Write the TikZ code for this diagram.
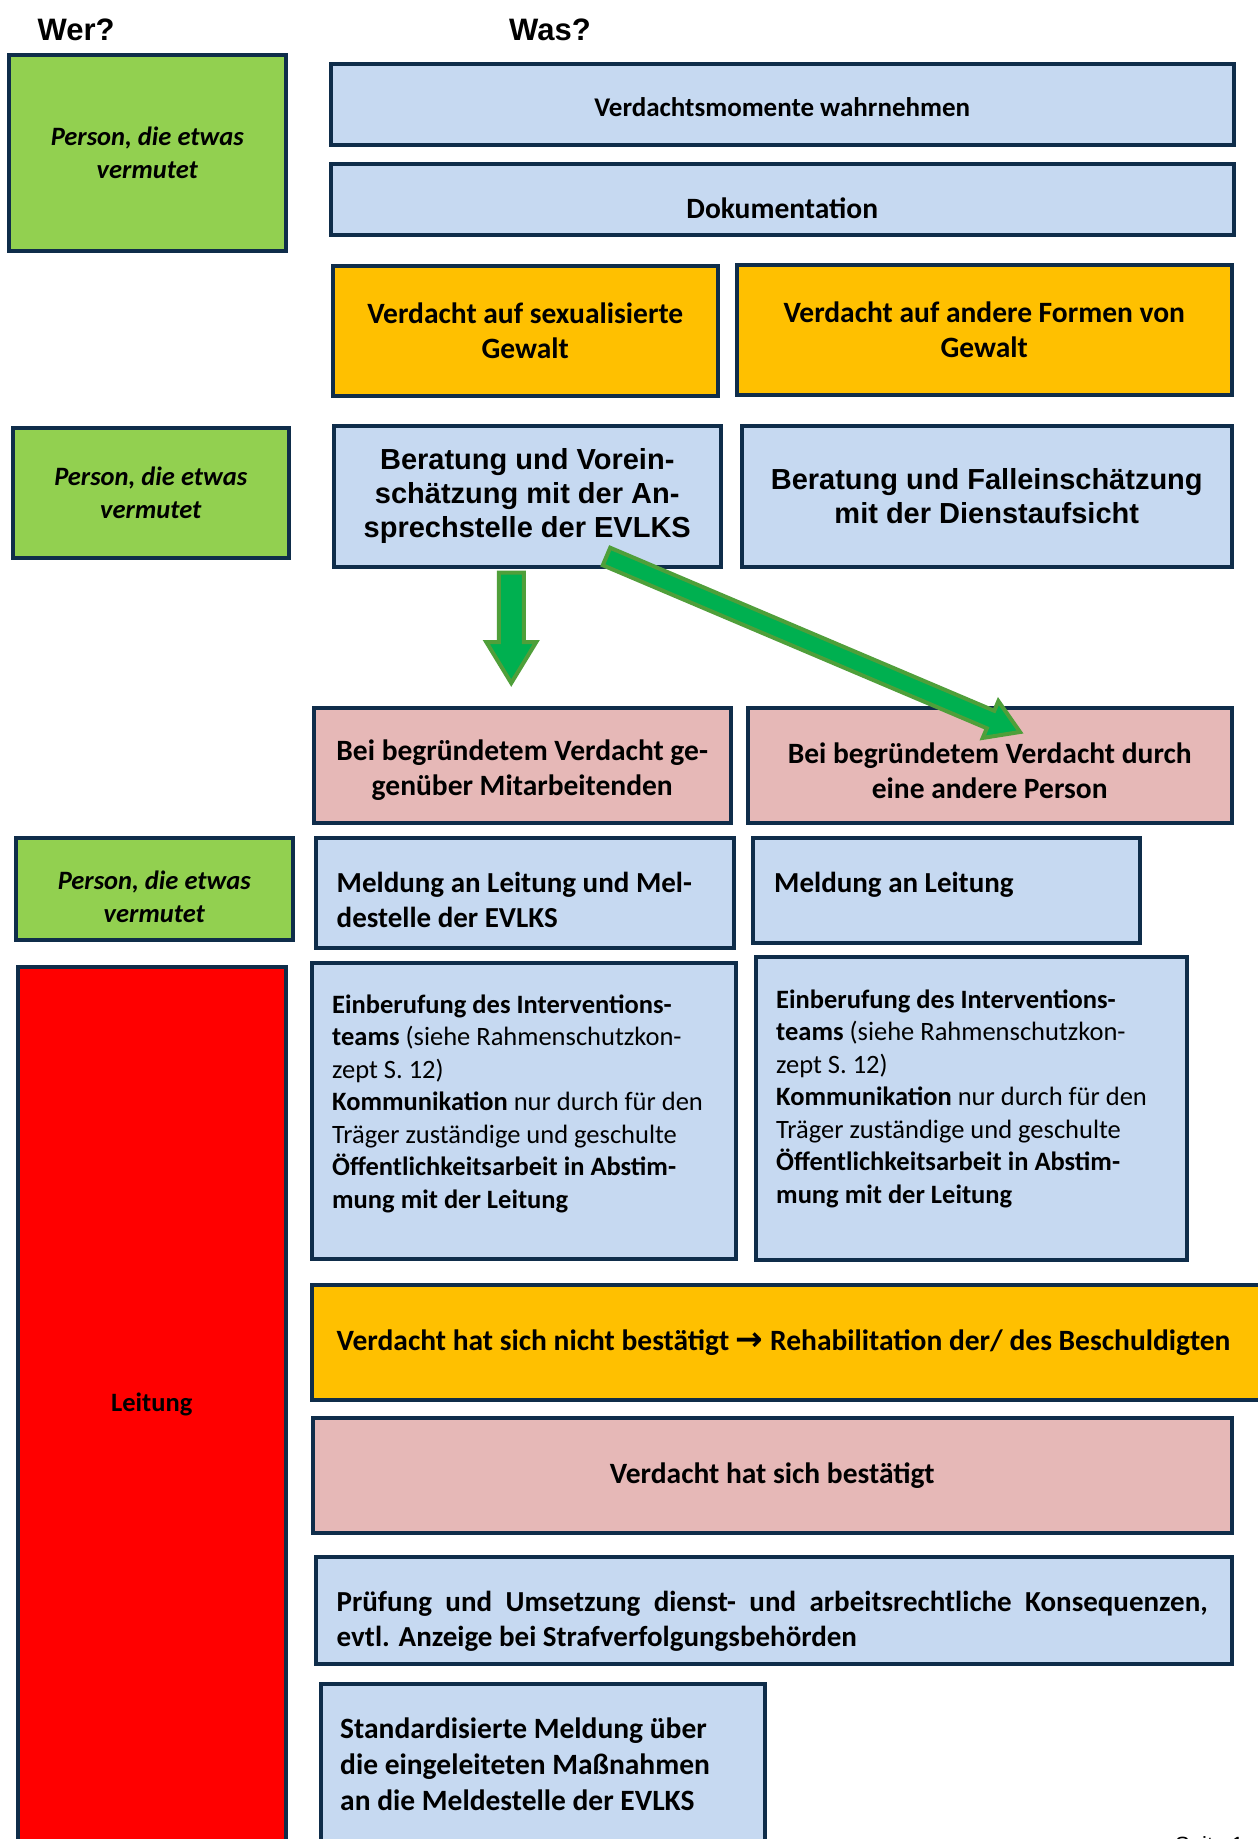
\documentclass[tikz,border=0pt]{standalone}
\usepackage{fontspec}
\setmainfont{Carlito}
\newfontfamily\arialfont{Liberation Sans}
\newfontfamily\symfont{DejaVu Sans}
\usepackage{tikz}
\usetikzlibrary{calc}
\definecolor{boxline}{HTML}{0F2D4A}
\definecolor{softblue}{HTML}{C6D9F1}
\definecolor{whogreen}{HTML}{92D050}
\definecolor{alertorange}{HTML}{FFC000}
\definecolor{softpink}{HTML}{E6B8B7}
\definecolor{leadred}{HTML}{FF0000}
\definecolor{arrowgreen}{HTML}{00B050}
\definecolor{arrowrim}{HTML}{4F9F3A}
\newcommand{\fatarrow}[5]{%
  \coordinate (#1-b) at ($(#2)!#5!(#1)$);
  \draw[fatarrow] ($(#1)!#3!90:(#2)$) -- ($(#1-b)!#3!90:(#2)$) -- ($(#1-b)!#4!90:(#2)$) -- (#2)
    -- ($(#1-b)!#4!-90:(#2)$) -- ($(#1-b)!#3!-90:(#2)$) -- ($(#1)!#3!-90:(#2)$) -- cycle;
}
\tikzset{
  box/.style={draw=boxline, line width=3.5pt, inner sep=0pt, anchor=north west, align=center, font=\fontsize{29.5}{35}\selectfont\bfseries},
  bluebox/.style={box, fill=softblue},
  greenbox/.style={box, fill=whogreen, font=\fontsize{26.5}{32.5}\selectfont\bfseries\itshape},
  orangebox/.style={box, fill=alertorange},
  pinkbox/.style={box, fill=softpink},
  redbox/.style={box, fill=leadred, font=\fontsize{26.5}{32.5}\selectfont\bfseries},
  arialbox/.style={bluebox, font=\arialfont\fontsize{29}{34}\selectfont\bfseries},
  boxtext/.style={inner sep=0pt, anchor=base west, align=flush left, font=\fontsize{29}{35}\selectfont\bfseries},
  midtext/.style={inner sep=0pt, anchor=center, align=center, font=\fontsize{29.5}{35}\selectfont\bfseries},
  smalltext/.style={boxtext, font=\fontsize{26.5}{32.5}\selectfont},
  heading/.style={inner sep=0pt, anchor=base west, font=\arialfont\fontsize{31}{36}\selectfont\bfseries},
  pagenum/.style={inner sep=0pt, anchor=base west, font=\arialfont\fontsize{22}{26}\selectfont},
  fatarrow/.style={draw=arrowrim, fill=arrowgreen, line width=4pt}
}

\begin{document}
\begin{tikzpicture}[x=1pt, y=-1pt]
  \useasboundingbox (0,0) rectangle (1258,1839);
  \clip (0,0) rectangle (1258,1839);
  \node[heading] (wer) at (37.5,40) {Wer?};
  \node[heading] (was) at (509,40) {Was?};
  % first step
  \node[greenbox, minimum width=277pt, minimum height=196pt] (who1) at (7,53) {Person, die etwas\\vermutet};
  \node[bluebox, minimum width=903pt, minimum height=81pt] (notice) at (329,62) {};
  \node[midtext, font=\fontsize{27}{33}\selectfont\bfseries] (notice-t) at ($(notice.center)+(0,3)$) {Verdachtsmomente wahrnehmen};
  \node[bluebox, minimum width=903pt, minimum height=71pt] (docu) at (329,162) {};
  \node[midtext] (docu-t) at ($(docu.center)+(0,9)$) {Dokumentation};
  \node[orangebox, minimum width=385pt, minimum height=130pt] (sexual) at (331,264) {Verdacht auf sexualisierte\\Gewalt};
  \node[orangebox, minimum width=495pt, minimum height=130pt] (other) at (735,263) {Verdacht auf andere Formen von\\Gewalt};
  % second step
  \node[greenbox, minimum width=276pt, minimum height=130pt] (who2) at (11,426) {Person, die etwas\\vermutet};
  \node[arialbox, minimum width=387pt, minimum height=141pt] (advice) at (332,424) {Beratung und Vorein-\\schätzung mit der An-\\sprechstelle der EVLKS};
  \node[arialbox, minimum width=490pt, minimum height=141pt] (assess) at (740,424) {Beratung und Falleinschätzung\\mit der Dienstaufsicht};
  \node[pinkbox, minimum width=417pt, minimum height=115pt] (staff) at (312,706) {};
  \node[midtext] (staff-t) at ($(staff.center)+(0,5)$) {Bei begründetem Verdacht ge-\\genüber Mitarbeitenden};
  \node[pinkbox, minimum width=484pt, minimum height=115pt] (person) at (746,706) {};
  \node[midtext] (person-t) at ($(person.center)+(0,5)$) {Bei begründetem Verdacht durch\\eine andere Person};
  % third step
  \node[greenbox, minimum width=277pt, minimum height=102pt] (who3) at (14,836) {};
  \node[midtext, font=\fontsize{26.5}{32.5}\selectfont\bfseries\itshape] (who3-t) at ($(who3.center)+(0,8)$) {Person, die etwas\\vermutet};
  \node[bluebox, minimum width=418pt, minimum height=110pt] (reportA) at (314,836) {};
  \node[boxtext, text width=390pt] (reportA-t) at ($(reportA.north west)+(22.5,56)$) {Meldung an Leitung und Mel-\\destelle der EVLKS};
  \node[bluebox, minimum width=387pt, minimum height=105pt] (reportB) at (751,836) {};
  \node[boxtext] (reportB-t) at ($(reportB.north west)+(23,56)$) {Meldung an Leitung};
  % leadership
  \node[redbox, minimum width=268pt, minimum height=876pt] (lead) at (16,965) {Leitung};
  \node[bluebox, minimum width=424pt, minimum height=296pt] (teamA) at (310,961) {};
  \node[smalltext, text width=400pt] (teamA-t) at ($(teamA.north west)+(22,52)$) {\textbf{Einberufung des Interventions-}\\\textbf{teams} (siehe Rahmenschutzkon-\\zept S.~12)\\\textbf{Kommunikation} nur durch für den\\Träger zuständige und geschulte\\\textbf{Öffentlichkeitsarbeit in Abstim-}\\\textbf{mung mit der Leitung}};
  \node[bluebox, minimum width=431pt, minimum height=303pt] (teamB) at (754,955) {};
  \node[smalltext, text width=400pt] (teamB-t) at ($(teamB.north west)+(22,53)$) {\textbf{Einberufung des Interventions-}\\\textbf{teams} (siehe Rahmenschutzkon-\\zept S.~12)\\\textbf{Kommunikation} nur durch für den\\Träger zuständige und geschulte\\\textbf{Öffentlichkeitsarbeit in Abstim-}\\\textbf{mung mit der Leitung}};
  \node[orangebox, minimum width=1000pt, minimum height=115pt] (cleared) at (310,1283) {};
  \node[boxtext, font=\fontsize{29.5}{35}\selectfont\bfseries] (cleared-t) at ($(cleared.north west)+(26.5,67)$) {Verdacht hat sich nicht bestätigt {\symfont\fontsize{33}{35}\selectfont →} Rehabilitation der/ des Beschuldigten};
  \node[pinkbox, minimum width=919pt, minimum height=115pt] (confirmed) at (311,1416) {Verdacht hat sich bestätigt};
  \node[bluebox, minimum width=916pt, minimum height=107pt] (measures) at (314,1555) {};
  \node[boxtext, text width=871pt, align=justify] (measures-t) at ($(measures.north west)+(22.5,56)$) {Prüfung und Umsetzung dienst- und arbeitsrechtliche Konsequenzen,\linebreak evtl. Anzeige bei Strafverfolgungsbehörden};
  \node[bluebox, minimum width=444pt, minimum height=230pt] (notify) at (319,1682) {};
  \node[boxtext, text width=420pt, font=\fontsize{29.5}{36}\selectfont\bfseries] (notify-t) at ($(notify.north west)+(21,56)$) {Standardisierte Meldung über\\die eingeleiteten Maßnahmen\\an die Meldestelle der EVLKS};
  \node[pagenum] (page) at (1175,1852) {Seite 1};
  % arrows
  \coordinate (downS) at ($(advice.south)+(-16,4)$);
  \coordinate (downT) at ($(staff.north)+(-11,-23)$);
  \fatarrow{downS}{downT}{12.5pt}{25pt}{41pt}
  \coordinate (diagS) at ($(advice.south east)+(-116,-12)$);
  \coordinate (diagT) at ($(person.north west)+(274,26)$);
  \fatarrow{diagS}{diagT}{9.5pt}{20pt}{32pt}
\end{tikzpicture}
\end{document}
